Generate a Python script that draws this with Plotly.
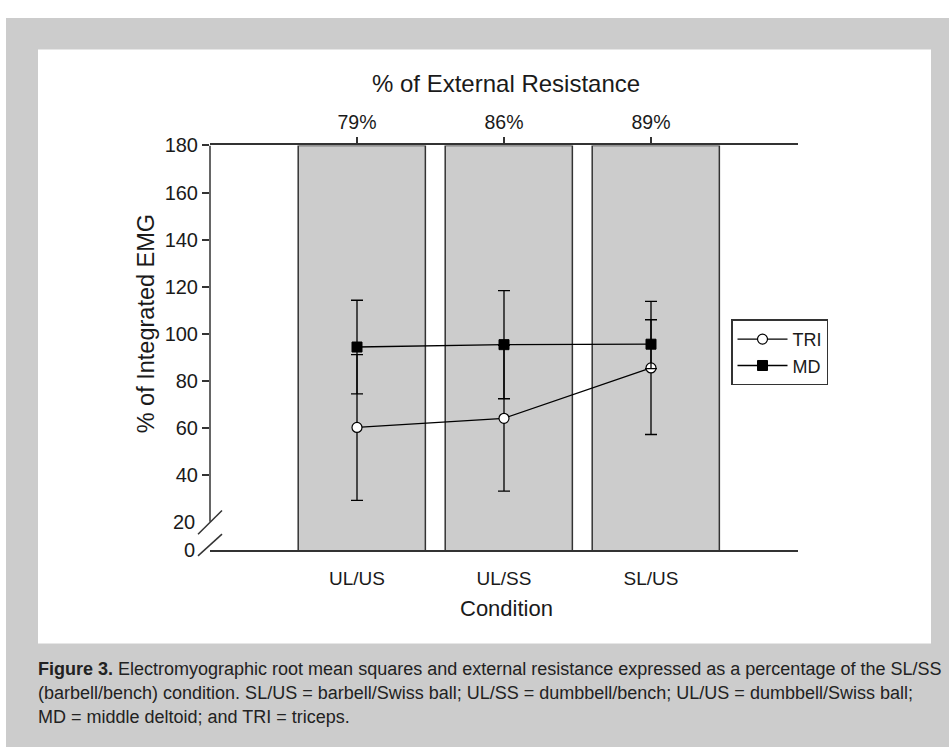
import plotly.graph_objects as go

# ---------------- data ----------------
categories = ["UL/US", "UL/SS", "SL/US"]
resistance_pct = [79, 86, 89]          # % of external resistance (top axis labels)
bar_top = [180, 180, 180]              # bars fill the whole panel height
tri_mean = [60.1, 64.0, 85.4]
tri_err = [31.0, 31.0, 28.3]
md_mean = [94.3, 95.3, 95.5]
md_err = [19.9, 23.0, 10.4]
y_ticks = [40, 60, 80, 100, 120, 140, 160, 180]
break_labels = ["20", "0"]

# ---------------- layout constants ----------------
W, H = 949, 747
Y_MIN, Y_MAX = 7.8, 180
FONT = "Liberation Sans, Arial, Helvetica, sans-serif"
INK = "#1a1a1a"
AX = "#333333"
GRAY = "#cccccc"


def px(x):
    return x / W


def py(y):
    return 1 - y / H


fig = go.Figure()

# bars (external resistance) on the bottom category axis
fig.add_trace(go.Bar(
    x=categories, y=bar_top, xaxis="x", yaxis="y",
    marker=dict(color=GRAY, line=dict(color=AX, width=1.5)),
    width=0.865, offset=-0.40, showlegend=False, hoverinfo="skip",
))

# EMG series on the overlaying top axis (drawn above the bars)
fig.add_trace(go.Scatter(
    x=categories, y=tri_mean, name="TRI", mode="lines+markers", xaxis="x2", yaxis="y",
    line=dict(color="black", width=1.3),
    marker=dict(symbol="circle", size=10, color="white", line=dict(color="black", width=1.2)),
    error_y=dict(type="data", array=tri_err, visible=True, color="black", thickness=1.3, width=6),
))
fig.add_trace(go.Scatter(
    x=categories, y=md_mean, name="MD", mode="lines+markers", xaxis="x2", yaxis="y",
    line=dict(color="black", width=1.3),
    marker=dict(symbol="square", size=10, color="black", line=dict(color="black", width=1)),
    error_y=dict(type="data", array=md_err, visible=True, color="black", thickness=1.3, width=6),
))

shapes = [
    # outer gray frame and white panel
    dict(type="rect", xref="paper", yref="paper", x0=px(6), x1=1, y0=0, y1=py(7),
         fillcolor=GRAY, line=dict(width=0), layer="below"),
    dict(type="rect", xref="paper", yref="paper", x0=px(38), x1=px(931), y0=py(642), y1=py(39),
         fillcolor="white", line=dict(width=0), layer="below"),
    # broken y axis line
    dict(type="line", xref="x domain", yref="y", x0=0, x1=0, y0=20, y1=Y_MAX,
         line=dict(color=AX, width=1.5), layer="above"),
    # break slashes
    dict(type="line", xref="paper", yref="paper", x0=px(198), y0=py(531), x1=px(222), y1=py(507),
         line=dict(color=AX, width=1.5), layer="above"),
    dict(type="line", xref="paper", yref="paper", x0=px(198), y0=py(553), x1=px(222), y1=py(531),
         line=dict(color=AX, width=1.5), layer="above"),
]

annotations = [
    dict(text="% of External Resistance", xref="paper", yref="paper", x=px(506), y=py(74),
         xanchor="center", yanchor="middle", showarrow=False, font=dict(size=24, color=INK)),
    dict(text="% of Integrated EMG", xref="paper", yref="paper", x=px(146), y=py(318),
         xanchor="center", yanchor="middle", textangle=-90, showarrow=False,
         font=dict(size=23.5, color=INK)),
    dict(text="Condition", xref="paper", yref="paper", x=px(506), y=py(606),
         xanchor="center", yanchor="middle", showarrow=False, font=dict(size=22, color=INK)),
]
for lab, val in zip(break_labels, [20, Y_MIN]):
    annotations.append(dict(text=lab, xref="paper", yref="y", x=px(197), y=val,
                            xanchor="right", yanchor="middle", showarrow=False,
                            font=dict(size=20, color=INK)))

caption = [
    "<b>Figure 3.</b> Electromyographic root mean squares and external resistance expressed as a percentage of the SL/SS",
    "(barbell/bench) condition. SL/US = barbell/Swiss ball; UL/SS = dumbbell/bench; UL/US = dumbbell/Swiss ball;",
    "MD = middle deltoid; and TRI = triceps.",
]
for i, line in enumerate(caption):
    annotations.append(dict(text=line, xref="paper", yref="paper", x=px(36), y=py(668 + 24.4 * i),
                            xanchor="left", yanchor="middle", showarrow=False,
                            font=dict(size=18, color="#222222")))

fig.update_layout(
    width=W, height=H,
    margin=dict(l=0, r=0, t=0, b=0),
    paper_bgcolor="white", plot_bgcolor="rgba(0,0,0,0)",
    font=dict(family=FONT, color=INK, size=18),
    barmode="overlay",
    xaxis=dict(
        domain=[px(210), px(798)], range=[-1, 3], type="category",
        categoryorder="array", categoryarray=categories,
        showline=True, linecolor=AX, linewidth=1.5, ticks="", showgrid=False, zeroline=False,
        tickfont=dict(size=19, color=INK), ticklabelstandoff=10,
    ),
    xaxis2=dict(
        overlaying="x", side="top", anchor="y", range=[-1, 3], type="category",
        categoryorder="array", categoryarray=categories,
        tickvals=categories, ticktext=[f"{v}%" for v in resistance_pct],
        showline=True, linecolor=AX, linewidth=1.5, ticks="outside", ticklen=7,
        tickwidth=1.5, tickcolor=AX, showgrid=False, zeroline=False,
        tickfont=dict(size=19.5, color=INK),
    ),
    yaxis=dict(
        domain=[py(547.5), py(136.5)], range=[Y_MIN, Y_MAX],
        tickvals=y_ticks, ticks="outside", ticklen=7, tickwidth=1.5, tickcolor=AX,
        showline=False, showgrid=False, zeroline=False, tickfont=dict(size=20, color=INK),
    ),
    legend=dict(
        x=px(731), y=py(313), xanchor="left", yanchor="top",
        bgcolor="white", bordercolor=AX, borderwidth=1.5,
        font=dict(size=18, color=INK), tracegroupgap=0, itemwidth=50,
    ),
    shapes=shapes, annotations=annotations,
    showlegend=True,
)

fig.write_html(
    "out.html",
    config={"displayModeBar": False},
    post_script="document.body.style.margin='0';document.body.style.overflow='hidden';",
)
